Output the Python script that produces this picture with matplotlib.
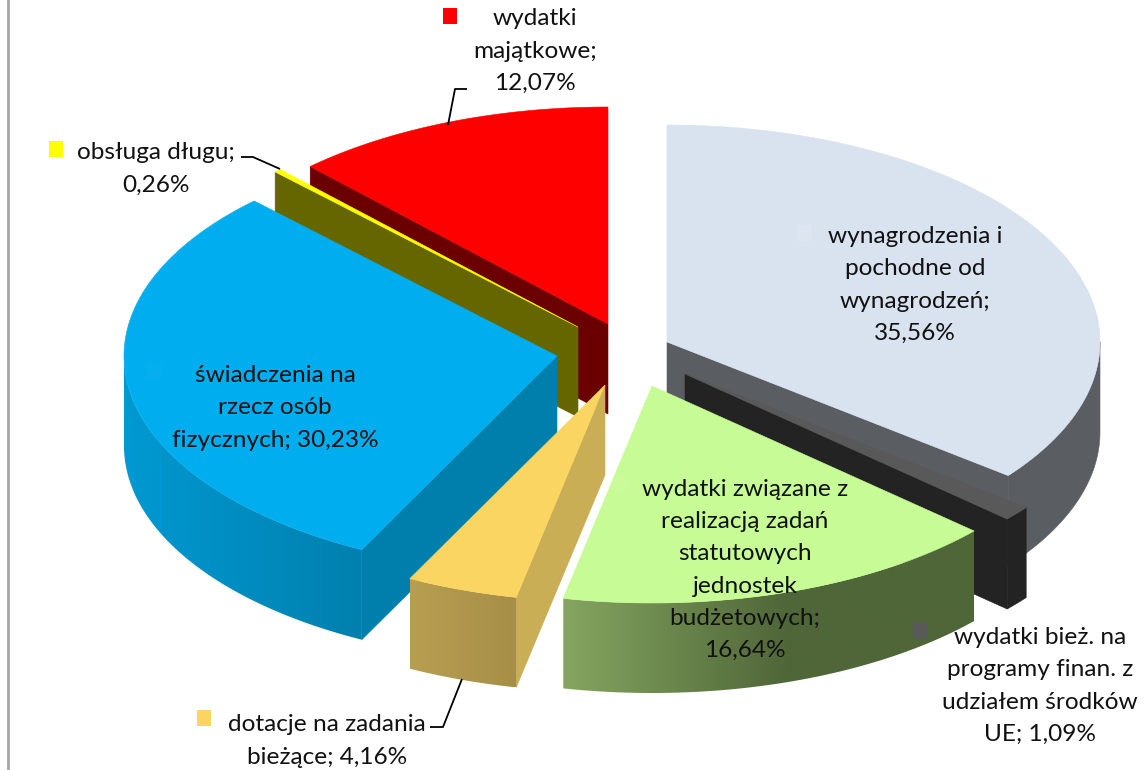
import numpy as np
import matplotlib
matplotlib.use("Agg")
import matplotlib.pyplot as plt
from matplotlib.colors import to_rgb
from matplotlib.patches import Polygon, Rectangle

# ---- data ----
categories = ["wynagrodzenia i\npochodne od\nwynagrodzeń", "wydatki bież. na\nprogramy finan. z\nudziałem środków\nUE",
              "wydatki związane z\nrealizacją zadań\nstatutowych\njednostek\nbudżetowych", "dotacje na zadania\nbieżące",
              "świadczenia na\nrzecz osób\nfizycznych", "obsługa długu", "wydatki\nmajątkowe"]
values = [35.56, 1.09, 16.64, 4.16, 30.23, 0.26, 12.07]
value_labels = ["35,56%", "1,09%", "16,64%", "4,16%", "30,23%", "0,26%", "12,07%"]
label_seps = [";\n", "; ", ";\n", "; ", "; ", ";\n", ";\n"]

# ---- style / layout (pixel space) ----
W, H = 1146, 770
RX, RY, DEPTH = 433, 217, 90
tips = [(667, 342), (685, 374), (652, 386), (605, 385), (557, 356), (578, 327), (608, 324)]
top_cols = ["#D9E2EF", "#595959", "#C6FB95", "#FBD561", "#00AEEF", "#FFFF00", "#FF0000"]
face_cols = ["#5A5D62", "#232323", "#4F6638", "#C9AE55", "#007FAD", "#666600", "#6B0000"]
rim_cols = [("#5A5D62", "#5A5D62"), ("#232323", "#232323"), ("#4F6638", "#85A560"),
            ("#A68E48", "#B89E50"), ("#0080AE", "#0099D2"), ("#666600", "#666600"), ("#6B0000", "#6B0000")]
rim_span = [1, 1, 0.55, 1, 1, 1, 1]
key_cols = ["#DDE5F0", "#595959", "#CAFB9B", "#FBD561", "#06AEED", "#FFFF00", "#FF0000"]
label_pos = [(915, 285), (1040, 686), (745, 570), (327, 741), (275, 408), (156, 169), (535, 51)]
key_pos = [(805, 233), (920, 630), (622, 484), (204, 718), (154, 370), (56, 149), (450, 16)]
leaders = {3: [(462, 679), (443, 727), (430, 727)],
           5: [(241, 157), (253, 157), (280, 169)],
           6: [(448, 125), (455, 89), (467, 89)]}
draw_order = [6, 5, 0, 1, 4, 3, 2]

plt.rcParams["font.family"] = ["Lato", "DejaVu Sans"]
fig = plt.figure(figsize=(W / 100, H / 100), dpi=100)
ax = fig.add_axes([0, 0, 1, 1])
ax.axis("off")

edges = np.concatenate([[0], np.cumsum(values)]) / np.sum(values) * 360.0


def rim_pt(tip, deg):
    a = np.radians(deg)
    return tip[0] + RX * np.sin(a), tip[1] - RY * np.cos(a)


def add_poly(pts, color, z):
    ax.add_patch(Polygon(pts, closed=True, facecolor=color, edgecolor=color, lw=0.4, zorder=z))


for z_base, i in enumerate(draw_order):
    tip, a0, a1 = tips[i], edges[i], edges[i + 1]
    z = 2 + z_base
    for a, visible in ((a0, 180 < a0 < 360), (a1, 0 < a1 < 180)):
        if visible:
            p = rim_pt(tip, a)
            add_poly([tip, p, (p[0], p[1] + DEPTH), (tip[0], tip[1] + DEPTH)], face_cols[i], z)
    lo, hi = max(a0, 90), min(a1, 270)
    if hi > lo:
        angs = np.linspace(lo, hi, int((hi - lo) * 2) + 2)
        top = [rim_pt(tip, a) for a in angs]
        outline = top + [(x, y + DEPTH) for x, y in reversed(top)]
        c0, c1 = np.array(to_rgb(rim_cols[i][0])), np.array(to_rgb(rim_cols[i][1]))
        if np.allclose(c0, c1):
            add_poly(outline, rim_cols[i][0], z)
        else:
            xs = np.array([p[0] for p in outline])
            ys = np.array([p[1] for p in outline])
            # colour runs from c1 at the left of the rim to c0 towards the right
            ramp = np.clip(np.linspace(1, 0, 256) - (1 - rim_span[i]), 0, None) / rim_span[i]
            ramp = ramp[None, :, None]
            img = c0 * (1 - ramp) + c1 * ramp
            im = ax.imshow(img, extent=(xs.min(), xs.max(), ys.max(), ys.min()), aspect="auto",
                           interpolation="bilinear", zorder=z)
            im.set_clip_path(Polygon(outline, closed=True, transform=ax.transData))
    angs = np.linspace(a0, a1, max(2, int(a1 - a0) * 2 + 1))
    add_poly([tip] + [rim_pt(tip, a) for a in angs], top_cols[i], z + 0.5)

# frame line at the left edge
ax.plot([8, 8], [0, H], color="#A6A6A6", lw=2, zorder=1)

for i, pts in leaders.items():
    xs, ys = zip(*pts)
    ax.plot(xs, ys, color="black", lw=1.3, zorder=20, solid_capstyle="butt")

for i, cat in enumerate(categories):
    ax.text(*label_pos[i], cat + label_seps[i] + value_labels[i], ha="center", va="center",
            ma="center", fontsize=17.6, linespacing=1.66, color="#111111", zorder=30)
    kx, ky = key_pos[i]
    ax.add_patch(Rectangle((kx - 7, ky - 8), 14, 16, facecolor=key_cols[i], edgecolor="none", zorder=25))

ax.set_xlim(0, W)
ax.set_ylim(H, 0)
fig.savefig("out.png", dpi=100)
